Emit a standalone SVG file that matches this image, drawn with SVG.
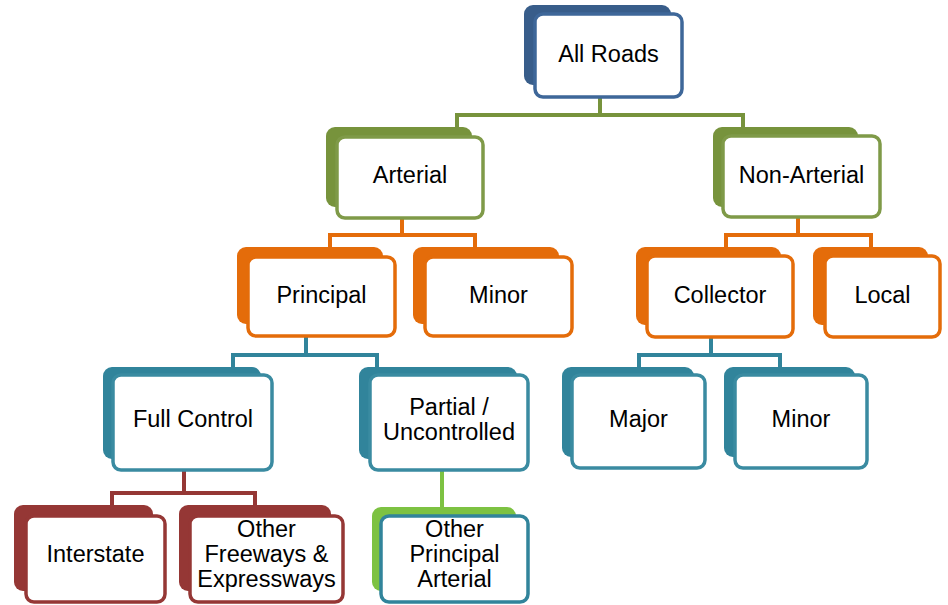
<svg xmlns="http://www.w3.org/2000/svg" width="948" height="605" viewBox="0 0 948 605">
<style>
.bk{stroke:none}
.fr{fill:#ffffff;stroke-width:3.5}
.c{fill:none;stroke-width:4}
text{font-family:"Liberation Sans",Arial,sans-serif;font-size:23.5px;fill:#000;text-anchor:middle}
.blue .bk{fill:#385D8A}.blue .fr{stroke:#3E6799}
.green .bk{fill:#77933C}.green .fr{stroke:#7F9A48}
.orange .bk{fill:#E46C0A}.orange .fr{stroke:#E46C0A}
.teal .bk{fill:#31849B}.teal .fr{stroke:#3A8BA1}
.red .bk{fill:#953735}.red .fr{stroke:#953735}
.lg .bk{fill:#7DC242}.lg .fr{stroke:#31849B}
</style>
<rect width="948" height="605" fill="#ffffff"/>
<g id="connectors">
<path class="c" stroke="#77933C" d="M600,97V115M457,128V115H743V128"/>
<path class="c" stroke="#E46C0A" d="M402,218V235M330,247V235H475V247"/>
<path class="c" stroke="#E46C0A" d="M798,217V235M726,247V235H871V247"/>
<path class="c" stroke="#31849B" d="M306,336V355M233,367V355H377V367"/>
<path class="c" stroke="#31849B" d="M711,337V355M639,367V355H780V367"/>
<path class="c" stroke="#953735" d="M184,470V493M112,505V493H255V505"/>
<path class="c" stroke="#7DC242" d="M442,470V507"/>
</g>
<g id="all-roads" class="blue">
<rect class="bk" x="524" y="5" width="147" height="80" rx="9"/>
<rect class="fr" x="535" y="14" width="147" height="83" rx="8"/>
<text x="608.5" y="62">All Roads</text>
</g>
<g id="arterial" class="green">
<rect class="bk" x="326" y="127" width="146" height="80" rx="9"/>
<rect class="fr" x="337" y="137" width="146" height="81" rx="8"/>
<text x="410" y="183">Arterial</text>
</g>
<g id="non-arterial" class="green">
<rect class="bk" x="713" y="127" width="145" height="80" rx="9"/>
<rect class="fr" x="723" y="136" width="157" height="81" rx="8"/>
<text x="801.5" y="183">Non-Arterial</text>
</g>
<g id="principal" class="orange">
<rect class="bk" x="237" y="247" width="146" height="77" rx="9"/>
<rect class="fr" x="248" y="257" width="147" height="79" rx="8"/>
<text x="321.5" y="303">Principal</text>
</g>
<g id="minor-arterial" class="orange">
<rect class="bk" x="413" y="247" width="146" height="77" rx="9"/>
<rect class="fr" x="425" y="257" width="147" height="79" rx="8"/>
<text x="498.5" y="303">Minor</text>
</g>
<g id="collector" class="orange">
<rect class="bk" x="636" y="247" width="145" height="78" rx="9"/>
<rect class="fr" x="647" y="256" width="146" height="81" rx="8"/>
<text x="720" y="303">Collector</text>
</g>
<g id="local" class="orange">
<rect class="bk" x="813" y="247" width="115" height="78" rx="9"/>
<rect class="fr" x="825" y="256" width="115" height="81" rx="8"/>
<text x="882.5" y="303">Local</text>
</g>
<g id="full-control" class="teal">
<rect class="bk" x="103" y="367" width="158" height="92" rx="9"/>
<rect class="fr" x="113" y="375" width="159" height="95" rx="8"/>
<text x="193" y="427">Full Control</text>
</g>
<g id="partial" class="teal">
<rect class="bk" x="359" y="367" width="158" height="92" rx="9"/>
<rect class="fr" x="370" y="375" width="158" height="95" rx="8"/>
<text x="449" y="415">Partial /</text>
<text x="449" y="440">Uncontrolled</text>
</g>
<g id="major" class="teal">
<rect class="bk" x="562" y="367" width="132" height="90" rx="9"/>
<rect class="fr" x="572" y="375" width="133" height="93" rx="8"/>
<text x="638.5" y="427">Major</text>
</g>
<g id="minor-collector" class="teal">
<rect class="bk" x="724" y="367" width="131" height="90" rx="9"/>
<rect class="fr" x="735" y="375" width="132" height="93" rx="8"/>
<text x="801" y="427">Minor</text>
</g>
<g id="interstate" class="red">
<rect class="bk" x="14" y="505" width="139" height="86" rx="9"/>
<rect class="fr" x="26" y="516" width="139" height="86" rx="8"/>
<text x="95.5" y="562">Interstate</text>
</g>
<g id="other-freeways" class="red">
<rect class="bk" x="179" y="505" width="152" height="86" rx="9"/>
<rect class="fr" x="190" y="516" width="153" height="86" rx="8"/>
<text x="266.5" y="537">Other</text>
<text x="266.5" y="562">Freeways &amp;</text>
<text x="266.5" y="587">Expressways</text>
</g>
<g id="other-principal" class="lg">
<rect class="bk" x="372" y="507" width="144" height="84" rx="9"/>
<rect class="fr" x="381" y="516" width="147" height="86" rx="8"/>
<text x="454.5" y="537">Other</text>
<text x="454.5" y="562">Principal</text>
<text x="454.5" y="587">Arterial</text>
</g>
</svg>
